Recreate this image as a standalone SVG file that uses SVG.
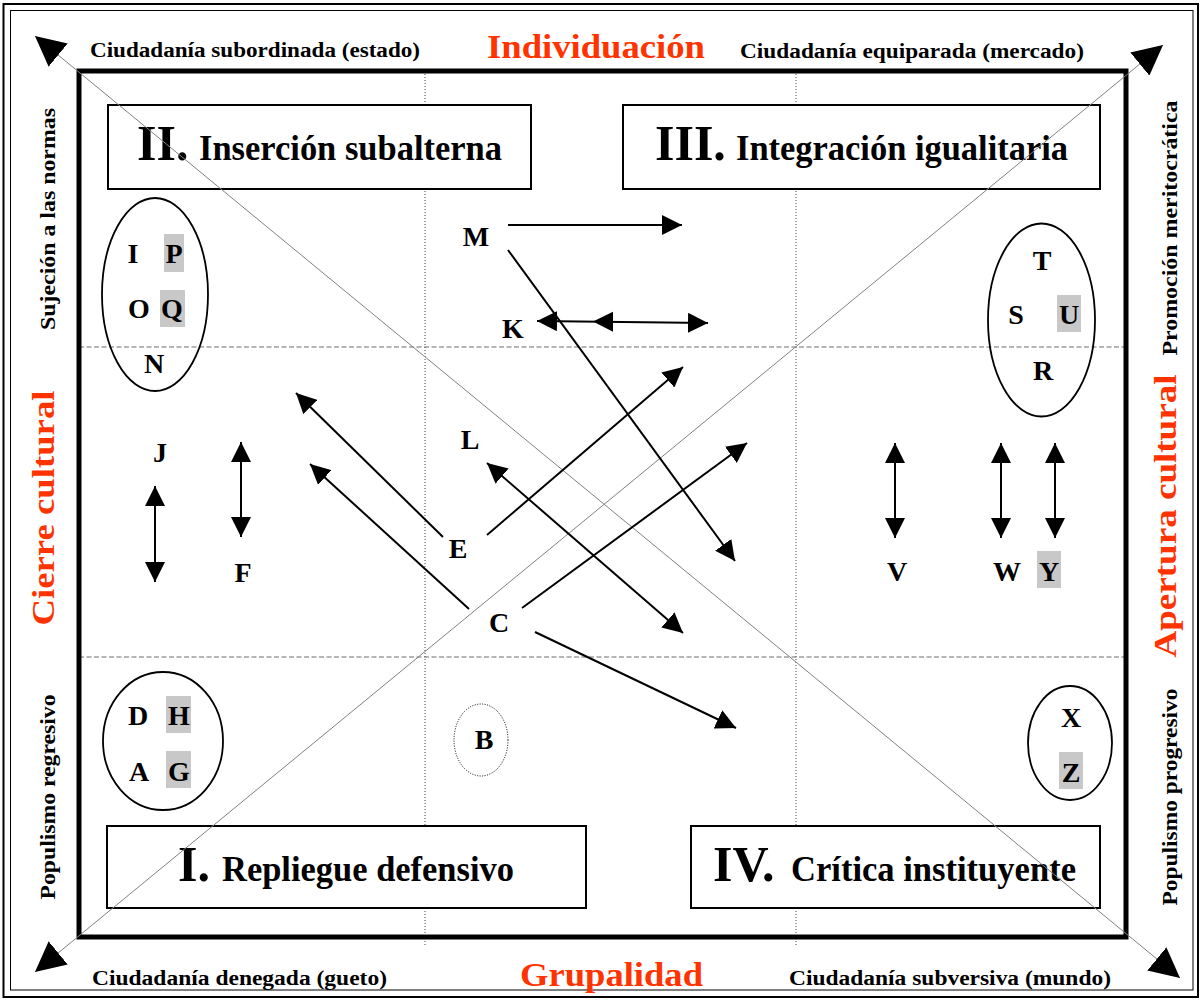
<svg xmlns="http://www.w3.org/2000/svg" width="1202" height="1001" viewBox="0 0 1202 1001">
<style>
.t{font-family:"Liberation Serif","Times New Roman",serif;font-weight:bold;fill:#000}
.red{fill:#ff3300}
.lt{font-size:28px;text-anchor:middle}
.grid-h{stroke:#6e6e6e;stroke-width:1.2;stroke-dasharray:5 2.5;fill:none}
.grid-v{stroke:#444;stroke-width:1;stroke-dasharray:1 2;fill:none}
.box{fill:#fff;stroke:#000;stroke-width:2}
.diag{stroke:#808080;stroke-width:1;fill:none}
.arr{stroke:#000;stroke-width:2;fill:none}
.ell{fill:none;stroke:#000;stroke-width:1.8}
.hl{fill:#c8c8c8}
</style>
<defs>
<marker id="ah" markerUnits="userSpaceOnUse" markerWidth="20" markerHeight="20" refX="20" refY="10" orient="auto-start-reverse" viewBox="0 0 20 20"><path d="M0,0 L20,10 L0,20 z" fill="#000"/></marker>
<marker id="big" markerUnits="userSpaceOnUse" markerWidth="30" markerHeight="30" refX="30" refY="15" orient="auto-start-reverse" viewBox="0 0 30 30"><path d="M0,0 L30,15 L0,30 z" fill="#000"/></marker>
</defs>
<rect width="1202" height="1001" fill="#fff"/>
<g id="frame">
<rect x="3.5" y="4" width="1194.5" height="993" fill="none" stroke="#000" stroke-width="2"/>
<rect x="10.5" y="10.5" width="1182.5" height="979.5" fill="none" stroke="#000" stroke-width="1"/>
</g>
<g id="grid">
<line class="grid-h" x1="79" y1="347" x2="1126" y2="347"/>
<line class="grid-h" x1="79" y1="657" x2="1126" y2="657"/>
<line class="grid-v" x1="425" y1="74" x2="425" y2="945"/>
<line class="grid-v" x1="796" y1="74" x2="796" y2="945"/>
</g>
<rect id="main" x="79" y="71" width="1047" height="866" fill="none" stroke="#000" stroke-width="5"/>
<g id="axis-labels">
<text class="t" x="90" y="57" font-size="20" textLength="330" lengthAdjust="spacingAndGlyphs">Ciudadanía subordinada (estado)</text>
<text class="t red" x="487" y="58" font-size="34" textLength="218" lengthAdjust="spacingAndGlyphs">Individuación</text>
<text class="t" x="740" y="58" font-size="20" textLength="344" lengthAdjust="spacingAndGlyphs">Ciudadanía equiparada (mercado)</text>
<text class="t" x="92" y="985" font-size="20" textLength="295" lengthAdjust="spacingAndGlyphs">Ciudadanía denegada (gueto)</text>
<text class="t red" x="520" y="986" font-size="34" textLength="183" lengthAdjust="spacingAndGlyphs">Grupalidad</text>
<text class="t" x="789" y="985" font-size="20" textLength="322" lengthAdjust="spacingAndGlyphs">Ciudadanía subversiva (mundo)</text>
<text class="t" transform="rotate(-90 55 219)" x="55" y="219" font-size="20" text-anchor="middle" textLength="222" lengthAdjust="spacingAndGlyphs">Sujeción a las normas</text>
<text class="t red" transform="rotate(-90 54 508)" x="54" y="508" font-size="31" text-anchor="middle" textLength="235" lengthAdjust="spacingAndGlyphs">Cierre cultural</text>
<text class="t" transform="rotate(-90 55 797)" x="55" y="797" font-size="20" text-anchor="middle" textLength="205" lengthAdjust="spacingAndGlyphs">Populismo regresivo</text>
<text class="t" transform="rotate(-90 1177 228)" x="1177" y="228" font-size="20" text-anchor="middle" textLength="255" lengthAdjust="spacingAndGlyphs">Promoción meritocrática</text>
<text class="t red" transform="rotate(-90 1176 516)" x="1176" y="516" font-size="31" text-anchor="middle" textLength="283" lengthAdjust="spacingAndGlyphs">Apertura cultural</text>
<text class="t" transform="rotate(-90 1177 797)" x="1177" y="797" font-size="20" text-anchor="middle" textLength="217" lengthAdjust="spacingAndGlyphs">Populismo progresivo</text>
</g>
<g id="q2">
<rect class="box" x="108" y="105" width="423" height="84"/>
<text class="t" x="137" y="160" font-size="50">II.</text>
<text class="t" x="199" y="160" font-size="36" textLength="303" lengthAdjust="spacingAndGlyphs">Inserción subalterna</text>
</g>
<g id="q3">
<rect class="box" x="623" y="105" width="477" height="84"/>
<text class="t" x="655" y="160" font-size="50">III.</text>
<text class="t" x="736" y="160" font-size="36" textLength="332" lengthAdjust="spacingAndGlyphs">Integración igualitaria</text>
</g>
<g id="q1">
<rect class="box" x="107" y="826" width="479" height="82"/>
<text class="t" x="178" y="881" font-size="50">I.</text>
<text class="t" x="222" y="881" font-size="36" textLength="292" lengthAdjust="spacingAndGlyphs">Repliegue defensivo</text>
</g>
<g id="q4">
<rect class="box" x="691" y="826" width="409" height="82"/>
<text class="t" x="713" y="881" font-size="50">IV.</text>
<text class="t" x="791" y="881" font-size="36" textLength="285" lengthAdjust="spacingAndGlyphs">Crítica instituyente</text>
</g>
<g id="diagonals">
<line class="diag" x1="35" y1="36" x2="1180" y2="978" marker-start="url(#big)" marker-end="url(#big)"/>
<line class="diag" x1="35" y1="972" x2="1163" y2="45" marker-start="url(#big)" marker-end="url(#big)"/>
</g>
<g id="group-IPOQN">
<ellipse class="ell" cx="155" cy="294.5" rx="53" ry="96.5"/>
<rect class="hl" x="164" y="234" width="20" height="38"/>
<rect class="hl" x="160" y="290" width="25" height="37"/>
<text class="t lt" x="133" y="263">I</text>
<text class="t lt" x="174" y="263">P</text>
<text class="t lt" x="139" y="318">O</text>
<text class="t lt" x="172" y="318">Q</text>
<text class="t lt" x="154" y="373">N</text>
</g>
<g id="group-TSUR">
<ellipse class="ell" cx="1041.5" cy="320" rx="53.5" ry="96.5"/>
<rect class="hl" x="1057" y="295" width="24" height="37"/>
<text class="t lt" x="1042" y="270">T</text>
<text class="t lt" x="1016" y="324">S</text>
<text class="t lt" x="1069" y="324">U</text>
<text class="t lt" x="1043" y="380">R</text>
</g>
<g id="group-DHAG">
<ellipse class="ell" cx="163" cy="741" rx="60" ry="69"/>
<rect class="hl" x="166" y="696" width="25" height="37"/>
<rect class="hl" x="166" y="751" width="25" height="37"/>
<text class="t lt" x="138" y="725">D</text>
<text class="t lt" x="179" y="725">H</text>
<text class="t lt" x="139" y="781">A</text>
<text class="t lt" x="179" y="781">G</text>
</g>
<g id="group-XZ">
<ellipse class="ell" cx="1070" cy="743" rx="42" ry="57"/>
<rect class="hl" x="1059" y="752" width="24" height="37"/>
<text class="t lt" x="1071" y="727">X</text>
<text class="t lt" x="1071" y="782">Z</text>
</g>
<g id="node-B">
<ellipse cx="481" cy="740" rx="27" ry="36" fill="none" stroke="#000" stroke-width="1" stroke-dasharray="1 1.5"/>
<text class="t lt" x="484" y="749">B</text>
</g>
<g id="node-M"><text class="t lt" x="476" y="246">M</text></g>
<g id="node-K"><text class="t lt" x="513" y="338">K</text></g>
<g id="node-L"><text class="t lt" x="470" y="449">L</text></g>
<g id="node-E"><text class="t lt" x="458" y="558">E</text></g>
<g id="node-C"><text class="t lt" x="499" y="632">C</text></g>
<g id="node-J"><text class="t lt" x="160" y="462">J</text></g>
<g id="node-F"><text class="t lt" x="243" y="582">F</text></g>
<g id="node-V"><text class="t lt" x="897" y="581">V</text></g>
<g id="node-W"><text class="t lt" x="1007" y="581">W</text></g>
<g id="node-Y"><rect class="hl" x="1037" y="551" width="24" height="37"/><text class="t lt" x="1049" y="581">Y</text></g>
<g id="connectors">
<line class="arr" x1="508" y1="225" x2="682" y2="225" marker-end="url(#ah)"/>
<line class="arr" x1="508" y1="250" x2="735" y2="561" marker-end="url(#ah)"/>
<line class="arr" x1="537" y1="321" x2="708" y2="323" marker-start="url(#ah)" marker-end="url(#ah)"/>
<polygon points="593,321.5 613,311.7 613,331.7" fill="#000"/>
<line class="arr" x1="443" y1="537" x2="296" y2="393" marker-end="url(#ah)"/>
<line class="arr" x1="469" y1="609" x2="310" y2="464" marker-end="url(#ah)"/>
<line class="arr" x1="487" y1="535" x2="683" y2="367" marker-end="url(#ah)"/>
<line class="arr" x1="522" y1="608" x2="747" y2="443" marker-end="url(#ah)"/>
<line class="arr" x1="487" y1="463" x2="683" y2="633" marker-start="url(#ah)" marker-end="url(#ah)"/>
<line class="arr" x1="535" y1="632" x2="736" y2="728" marker-end="url(#ah)"/>
<line class="arr" x1="155" y1="486" x2="155" y2="582" marker-start="url(#ah)" marker-end="url(#ah)"/>
<line class="arr" x1="241" y1="442" x2="241" y2="537" marker-start="url(#ah)" marker-end="url(#ah)"/>
<line class="arr" x1="895" y1="443" x2="895" y2="538" marker-start="url(#ah)" marker-end="url(#ah)"/>
<line class="arr" x1="1001" y1="443" x2="1001" y2="538" marker-start="url(#ah)" marker-end="url(#ah)"/>
<line class="arr" x1="1055" y1="443" x2="1055" y2="538" marker-start="url(#ah)" marker-end="url(#ah)"/>
</g>
</svg>
